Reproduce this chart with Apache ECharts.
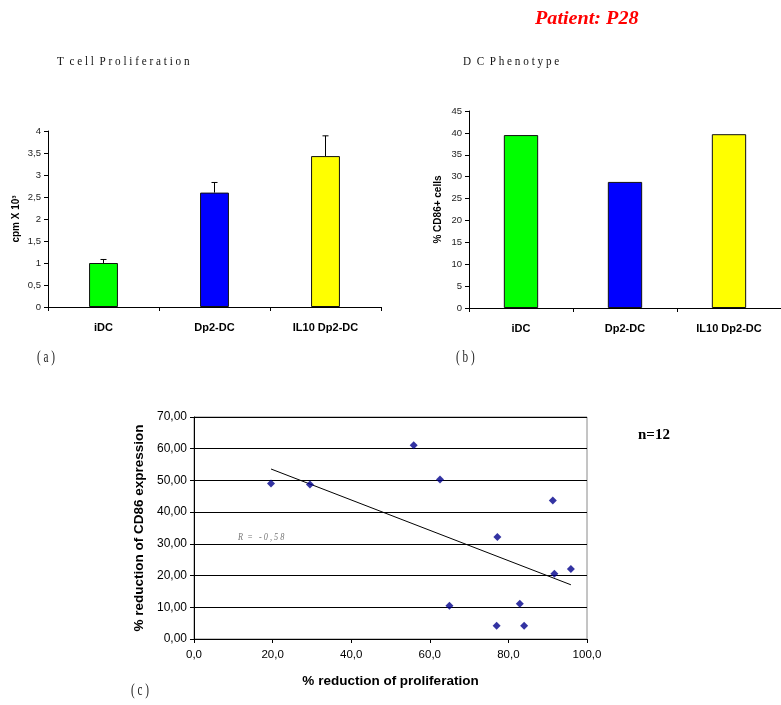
<!DOCTYPE html>
<html>
<head>
<meta charset="utf-8">
<script src="https://cdn.jsdelivr.net/npm/echarts@6/dist/echarts.min.js"></script>
<style>
  html, body { margin: 0; padding: 0; background: #fff; }
  #chart { width: 781px; height: 705px; }
</style>
</head>
<body>
<div id="chart"></div>
<script>
// Panel (a): T cell proliferation (cpm x 10^3), mean with upper error
const groups = ['iDC', 'Dp2-DC', 'IL10 Dp2-DC'];
const groupColors = ['#00FF00', '#0000FF', '#FFFF00'];
const prolifMean = [1.0, 2.6, 3.43];
const prolifErrTop = [1.08, 2.83, 3.89];

// Panel (b): DC phenotype, % CD86+ cells
const cd86Pct = [39.5, 28.8, 39.7];

// Panel (c): % reduction of proliferation vs % reduction of CD86 expression
const reductionProlif = [19.6, 29.5, 55.9, 62.6, 65.0, 77.2, 77.0, 82.9, 84.0, 91.3, 91.7, 95.9];
const reductionCD86   = [49.0, 48.7, 61.1, 50.3, 10.5, 32.2, 4.2, 11.1, 4.2, 43.7, 20.6, 22.1];
// Linear trend line end points
const trendX = [19.6, 95.9];
const trendY = [53.6, 17.1];

const commaNum = (d) => (v) => v.toFixed(d).replace('.', ',');
const sans = 'Liberation Sans';

const chart = echarts.init(document.getElementById('chart'));

const barData = (vals) => vals.map((v, i) => ({
  value: v,
  itemStyle: { color: groupColors[i], borderColor: '#111', borderWidth: 1 }
}));

const catAxis = (gi) => ({
  type: 'category', gridIndex: gi, data: groups,
  axisLine: { lineStyle: { color: '#000', width: 1 } },
  axisTick: { show: true, length: 4, lineStyle: { color: '#000' } },
  axisLabel: { color: '#000', fontFamily: sans, fontWeight: 'bold', fontSize: 11, margin: 15 }
});

const option = {
  animation: false,
  backgroundColor: '#fff',
  grid: [
    { left: 48, top: 131, width: 333, height: 176 },
    { left: 469, top: 111, width: 320, height: 197 },
    { left: 194, top: 417, width: 393, height: 222, show: true, borderColor: '#8a8a8a', borderWidth: 1, backgroundColor: 'transparent' }
  ],
  xAxis: [
    catAxis(0),
    catAxis(1),
    {
      type: 'value', gridIndex: 2, min: 0, max: 100, interval: 20,
      name: '% reduction of proliferation', nameLocation: 'middle', nameGap: 35,
      nameTextStyle: { fontFamily: sans, fontWeight: 'bold', fontSize: 13.5, color: '#000' },
      axisLine: { show: true, lineStyle: { color: '#000' } },
      axisTick: { show: true, length: 4, lineStyle: { color: '#000' } },
      axisLabel: { color: '#000', fontFamily: sans, fontSize: 11.5, margin: 10, formatter: commaNum(1) },
      splitLine: { show: false }
    }
  ],
  yAxis: [
    {
      type: 'value', gridIndex: 0, min: 0, max: 4, interval: 0.5,
      name: 'cpm X 10³', nameLocation: 'middle', nameGap: 27,
      nameTextStyle: { fontFamily: sans, fontWeight: 'bold', fontSize: 10, color: '#000' },
      axisLine: { show: true, lineStyle: { color: '#000' } },
      axisTick: { show: true, length: 4, lineStyle: { color: '#000' } },
      axisLabel: { color: '#222', fontFamily: sans, fontSize: 9.5, margin: 7,
        formatter: (v) => String(v).replace('.', ',') },
      splitLine: { show: false }
    },
    {
      type: 'value', gridIndex: 1, min: 0, max: 45, interval: 5,
      name: '% CD86+ cells', nameLocation: 'middle', nameGap: 26,
      nameTextStyle: { fontFamily: sans, fontWeight: 'bold', fontSize: 10, color: '#000' },
      axisLine: { show: true, lineStyle: { color: '#000' } },
      axisTick: { show: true, length: 4, lineStyle: { color: '#000' } },
      axisLabel: { color: '#222', fontFamily: sans, fontSize: 9.5, margin: 7 },
      splitLine: { show: false }
    },
    {
      type: 'value', gridIndex: 2, min: 0, max: 70, interval: 10,
      name: '% reduction of CD86 expression', nameLocation: 'middle', nameGap: 48,
      nameTextStyle: { fontFamily: sans, fontWeight: 'bold', fontSize: 13.5, color: '#000' },
      axisLine: { show: true, lineStyle: { color: '#000' } },
      axisTick: { show: true, length: 4, lineStyle: { color: '#000' } },
      axisLabel: { color: '#000', fontFamily: sans, fontSize: 12, margin: 7, formatter: commaNum(2) },
      splitLine: { show: true, lineStyle: { color: '#000', width: 1 } }
    }
  ],
  series: [
    {
      type: 'bar', xAxisIndex: 0, yAxisIndex: 0, barWidth: '26%',
      data: barData(prolifMean), z: 2
    },
    {
      // upper error bars for panel (a)
      type: 'custom', xAxisIndex: 0, yAxisIndex: 0, z: 1,
      data: prolifMean.map((m, i) => [i, m, prolifErrTop[i]]),
      renderItem: (params, api) => {
        const base = api.coord([api.value(0), api.value(1)]);
        const top = api.coord([api.value(0), api.value(2)]);
        const cap = 3;
        const st = { stroke: '#000', lineWidth: 1 };
        return {
          type: 'group',
          children: [
            { type: 'line', shape: { x1: base[0], y1: base[1], x2: top[0], y2: top[1] }, style: st },
            { type: 'line', shape: { x1: top[0] - cap, y1: top[1], x2: top[0] + cap, y2: top[1] }, style: st }
          ]
        };
      }
    },
    {
      type: 'bar', xAxisIndex: 1, yAxisIndex: 1, barWidth: '33%',
      data: barData(cd86Pct)
    },
    {
      type: 'scatter', xAxisIndex: 2, yAxisIndex: 2,
      symbol: 'diamond', symbolSize: 8,
      itemStyle: { color: '#00008B' },
      data: reductionProlif.map((x, i) => [x, reductionCD86[i]]),
      z: 4
    },
    {
      type: 'line', xAxisIndex: 2, yAxisIndex: 2,
      showSymbol: false, symbol: 'none',
      lineStyle: { color: '#000', width: 1 },
      data: trendX.map((x, i) => [x, trendY[i]]),
      z: 3
    }
  ],
  graphic: [
    { type: 'text', x: 535, y: 10, scaleX: 1.12,
      style: { text: 'Patient: P28', fill: '#FF0000', font: 'italic bold 18px "Liberation Serif"' } },
    { type: 'text', x: 57, y: 55, scaleX: 0.86,
      style: { text: 'T  c e l l  P r o l i f e r a t i o n', fill: '#111', font: '13px "Liberation Serif"' } },
    { type: 'text', x: 463, y: 55, scaleX: 0.86,
      style: { text: 'D  C  P h e n o t y p e', fill: '#111', font: '13px "Liberation Serif"' } },
    { type: 'text', x: 37, y: 350, scaleX: 0.7,
      style: { text: '( a )', fill: '#222', font: '16px "Liberation Serif"' } },
    { type: 'text', x: 456, y: 350, scaleX: 0.7,
      style: { text: '( b )', fill: '#222', font: '16px "Liberation Serif"' } },
    { type: 'text', x: 131, y: 683, scaleX: 0.7,
      style: { text: '( c )', fill: '#222', font: '16px "Liberation Serif"' } },
    { type: 'text', x: 638, y: 428,
      style: { text: 'n=12', fill: '#000', font: 'bold 15px "Liberation Serif"' } },
    { type: 'text', x: 238, y: 532, scaleX: 0.75,
      style: { text: 'R  =   - 0 , 5 8', fill: '#777', font: 'italic 11px "Liberation Serif"' } }
  ]
};

chart.setOption(option);
</script>
</body>
</html>
